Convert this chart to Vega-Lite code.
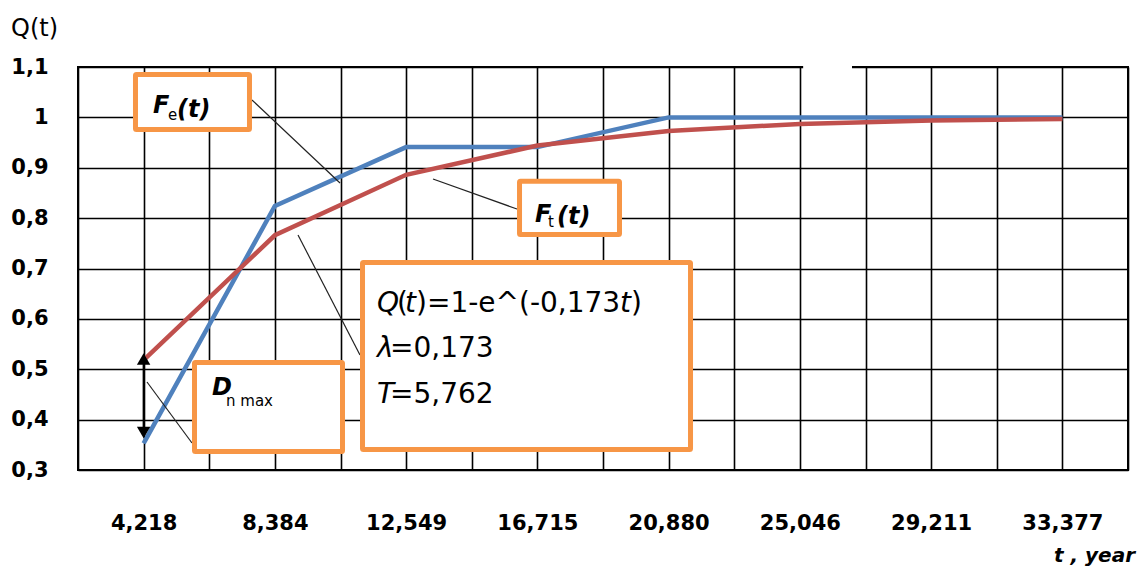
{
  "$schema": "https://vega.github.io/schema/vega-lite/v6.json",
  "width": 1050,
  "height": 403,
  "autosize": {"type": "none"},
  "padding": {"left": 78, "top": 67, "right": 15, "bottom": 97},
  "background": "white",
  "config": {
    "view": {"stroke": "#000", "strokeWidth": 2},
    "font": "DejaVu Sans"
  },
  "datasets": {
    "curves": [
      {"t": 4.218, "Q": 0.353, "series": "Fe"},
      {"t": 8.384, "Q": 0.824, "series": "Fe"},
      {"t": 12.549, "Q": 0.941, "series": "Fe"},
      {"t": 16.715, "Q": 0.941, "series": "Fe"},
      {"t": 20.88, "Q": 1.0, "series": "Fe"},
      {"t": 25.046, "Q": 1.0, "series": "Fe"},
      {"t": 29.211, "Q": 1.0, "series": "Fe"},
      {"t": 33.377, "Q": 1.0, "series": "Fe"},
      {"t": 4.218, "Q": 0.518, "series": "Ft"},
      {"t": 8.384, "Q": 0.766, "series": "Ft"},
      {"t": 12.549, "Q": 0.886, "series": "Ft"},
      {"t": 16.715, "Q": 0.944, "series": "Ft"},
      {"t": 20.88, "Q": 0.973, "series": "Ft"},
      {"t": 25.046, "Q": 0.987, "series": "Ft"},
      {"t": 29.211, "Q": 0.994, "series": "Ft"},
      {"t": 33.377, "Q": 0.997, "series": "Ft"}
    ],
    "boxes": [
      {"t1": 3.96, "t2": 7.578, "q1": 0.976, "q2": 1.085},
      {"t1": 16.148, "t2": 19.321, "q1": 0.7675, "q2": 0.873},
      {"t1": 11.165, "t2": 21.575, "q1": 0.3407, "q2": 0.712},
      {"t1": 5.833, "t2": 10.53, "q1": 0.3367, "q2": 0.5134}
    ],
    "gap": [
      {"t1": 25.15, "t2": 26.7, "q1": 1.094, "q2": 1.106}
    ],
    "leaders": [
      {"id": "Fe", "t": 7.658, "q": 1.0345},
      {"id": "Fe", "t": 10.451, "q": 0.8697},
      {"id": "Ft", "t": 13.402, "q": 0.8777},
      {"id": "Ft", "t": 16.068, "q": 0.8181},
      {"id": "Qb", "t": 9.118, "q": 0.7665},
      {"id": "Qb", "t": 11.085, "q": 0.5283},
      {"id": "Dn", "t": 4.3254, "q": 0.4747},
      {"id": "Dn", "t": 5.7535, "q": 0.3536}
    ],
    "arrowUp": [{"t": 4.218, "q": 0.5203}],
    "arrowDown": [{"t": 4.218, "q": 0.3744}],
    "arrowLine": [{"t": 4.218, "q1": 0.375, "q2": 0.52}],
    "bigLabels": [
      {"t": 4.5158, "q": 1.0087, "text": "F"},
      {"t": 5.2775, "q": 1.0007, "text": "(t)"},
      {"t": 16.639, "q": 0.7923, "text": "F"},
      {"t": 17.338, "q": 0.7883, "text": "(t)"},
      {"t": 6.3883, "q": 0.4489, "text": "D"}
    ],
    "subLabels": [
      {"t": 4.992, "q": 0.9948, "text": "e"},
      {"t": 17.052, "q": 0.7824, "text": "t"},
      {"t": 6.8326, "q": 0.427, "text": "n max"}
    ],
    "formulaItalic": [
      {"t": 11.6249, "q": 0.6136, "text": "Q"},
      {"t": 12.5135, "q": 0.6136, "text": "t"},
      {"t": 19.3369, "q": 0.6136, "text": "t"},
      {"t": 11.6249, "q": 0.5243, "text": "λ"},
      {"t": 11.6249, "q": 0.433, "text": "T"}
    ],
    "formulaPlain": [
      {"t": 12.2596, "q": 0.6136, "text": "("},
      {"t": 12.8626, "q": 0.6136, "text": ")=1-e^(-0,173"},
      {"t": 19.6861, "q": 0.6136, "text": ")"},
      {"t": 12.0375, "q": 0.5243, "text": "=0,173"},
      {"t": 12.0375, "q": 0.433, "text": "=5,762"}
    ]
  },
  "layer": [
    {
      "data": {"name": "curves"},
      "mark": {"type": "line", "strokeWidth": 4.5, "strokeJoin": "miter", "clip": false},
      "encoding": {
        "x": {
          "field": "t", "type": "quantitative",
          "scale": {"domain": [2.1355, 35.4595], "nice": false, "zero": false},
          "axis": {
            "values": [2.1355, 4.218, 6.301, 8.384, 10.4665, 12.549, 14.632, 16.715, 18.7975, 20.88, 22.963, 25.046, 27.1285, 29.211, 31.294, 33.377, 35.4595],
            "labelExpr": "indexof([4.218, 8.384, 12.549, 16.715, 20.88, 25.046, 29.211, 33.377], datum.value) >= 0 ? replace(format(datum.value, '.3f'), '.', ',') : ''",
            "grid": true, "gridColor": "#000", "gridWidth": 1.6, "gridOpacity": 1,
            "ticks": false, "domain": false,
            "labelFont": "DejaVu Sans", "labelFontWeight": "bold", "labelFontSize": 21, "labelColor": "#000",
            "labelPadding": 53, "labelBaseline": "middle", "labelOverlap": false, "labelFlush": false,
            "title": "t , year", "titleX": 1016, "titleY": 85, "titleAlign": "center", "titleBaseline": "middle",
            "titleFont": "DejaVu Sans", "titleFontSize": 20, "titleFontWeight": "bold", "titleFontStyle": "italic", "titleColor": "#000"
          }
        },
        "y": {
          "field": "Q", "type": "quantitative",
          "scale": {"domain": [0.3, 1.1], "nice": false, "zero": false},
          "axis": {
            "values": [0.3, 0.4, 0.5, 0.6, 0.7, 0.8, 0.9, 1.0, 1.1],
            "labelExpr": "replace(format(datum.value, '.1~f'), '.', ',')",
            "grid": true, "gridColor": "#000", "gridWidth": 1.6, "gridOpacity": 1,
            "ticks": false, "domain": false,
            "labelFont": "DejaVu Sans", "labelFontWeight": "bold", "labelFontSize": 21, "labelColor": "#000",
            "labelPadding": 30, "labelOverlap": false, "labelFlush": false,
            "title": "Q(t)", "titleAngle": 0, "titleX": -44, "titleY": -39, "titleAlign": "center", "titleBaseline": "middle",
            "titleFont": "DejaVu Sans", "titleFontSize": 24, "titleFontWeight": "normal", "titleColor": "#000"
          }
        },
        "color": {
          "field": "series", "type": "nominal",
          "scale": {"domain": ["Fe", "Ft"], "range": ["#4F81BD", "#C0504D"]},
          "legend": null
        }
      }
    },
    {
      "data": {"name": "gap"},
      "mark": {"type": "rect", "fill": "white", "stroke": null},
      "encoding": {
        "x": {"field": "t1", "type": "quantitative"},
        "x2": {"field": "t2"},
        "y": {"field": "q1", "type": "quantitative"},
        "y2": {"field": "q2"}
      }
    },
    {
      "data": {"name": "arrowLine"},
      "mark": {"type": "rule", "color": "#000", "strokeWidth": 2},
      "encoding": {
        "x": {"field": "t", "type": "quantitative"},
        "y": {"field": "q1", "type": "quantitative"},
        "y2": {"field": "q2"}
      }
    },
    {
      "data": {"name": "arrowUp"},
      "mark": {"type": "point", "shape": "triangle-up", "filled": true, "color": "#000", "size": 180, "opacity": 1},
      "encoding": {
        "x": {"field": "t", "type": "quantitative"},
        "y": {"field": "q", "type": "quantitative"}
      }
    },
    {
      "data": {"name": "arrowDown"},
      "mark": {"type": "point", "shape": "triangle-down", "filled": true, "color": "#000", "size": 180, "opacity": 1},
      "encoding": {
        "x": {"field": "t", "type": "quantitative"},
        "y": {"field": "q", "type": "quantitative"}
      }
    },
    {
      "data": {"name": "leaders"},
      "mark": {"type": "line", "color": "#222", "strokeWidth": 1.2},
      "encoding": {
        "x": {"field": "t", "type": "quantitative"},
        "y": {"field": "q", "type": "quantitative"},
        "detail": {"field": "id", "type": "nominal"}
      }
    },
    {
      "data": {"name": "boxes"},
      "mark": {"type": "rect", "fill": "white", "stroke": "#F79646", "strokeWidth": 5, "cornerRadius": 1},
      "encoding": {
        "x": {"field": "t1", "type": "quantitative"},
        "x2": {"field": "t2"},
        "y": {"field": "q1", "type": "quantitative"},
        "y2": {"field": "q2"}
      }
    },
    {
      "data": {"name": "bigLabels"},
      "mark": {"type": "text", "align": "left", "baseline": "alphabetic", "font": "DejaVu Sans", "fontSize": 24, "fontWeight": "bold", "fontStyle": "italic", "color": "#000"},
      "encoding": {
        "x": {"field": "t", "type": "quantitative"},
        "y": {"field": "q", "type": "quantitative"},
        "text": {"field": "text"}
      }
    },
    {
      "data": {"name": "subLabels"},
      "mark": {"type": "text", "align": "left", "baseline": "alphabetic", "font": "DejaVu Sans", "fontSize": 15, "color": "#000"},
      "encoding": {
        "x": {"field": "t", "type": "quantitative"},
        "y": {"field": "q", "type": "quantitative"},
        "text": {"field": "text"}
      }
    },
    {
      "data": {"name": "formulaItalic"},
      "mark": {"type": "text", "align": "left", "baseline": "alphabetic", "font": "DejaVu Sans", "fontSize": 28, "fontStyle": "italic", "color": "#000"},
      "encoding": {
        "x": {"field": "t", "type": "quantitative"},
        "y": {"field": "q", "type": "quantitative"},
        "text": {"field": "text"}
      }
    },
    {
      "data": {"name": "formulaPlain"},
      "mark": {"type": "text", "align": "left", "baseline": "alphabetic", "font": "DejaVu Sans", "fontSize": 28, "color": "#000"},
      "encoding": {
        "x": {"field": "t", "type": "quantitative"},
        "y": {"field": "q", "type": "quantitative"},
        "text": {"field": "text"}
      }
    }
  ]
}
